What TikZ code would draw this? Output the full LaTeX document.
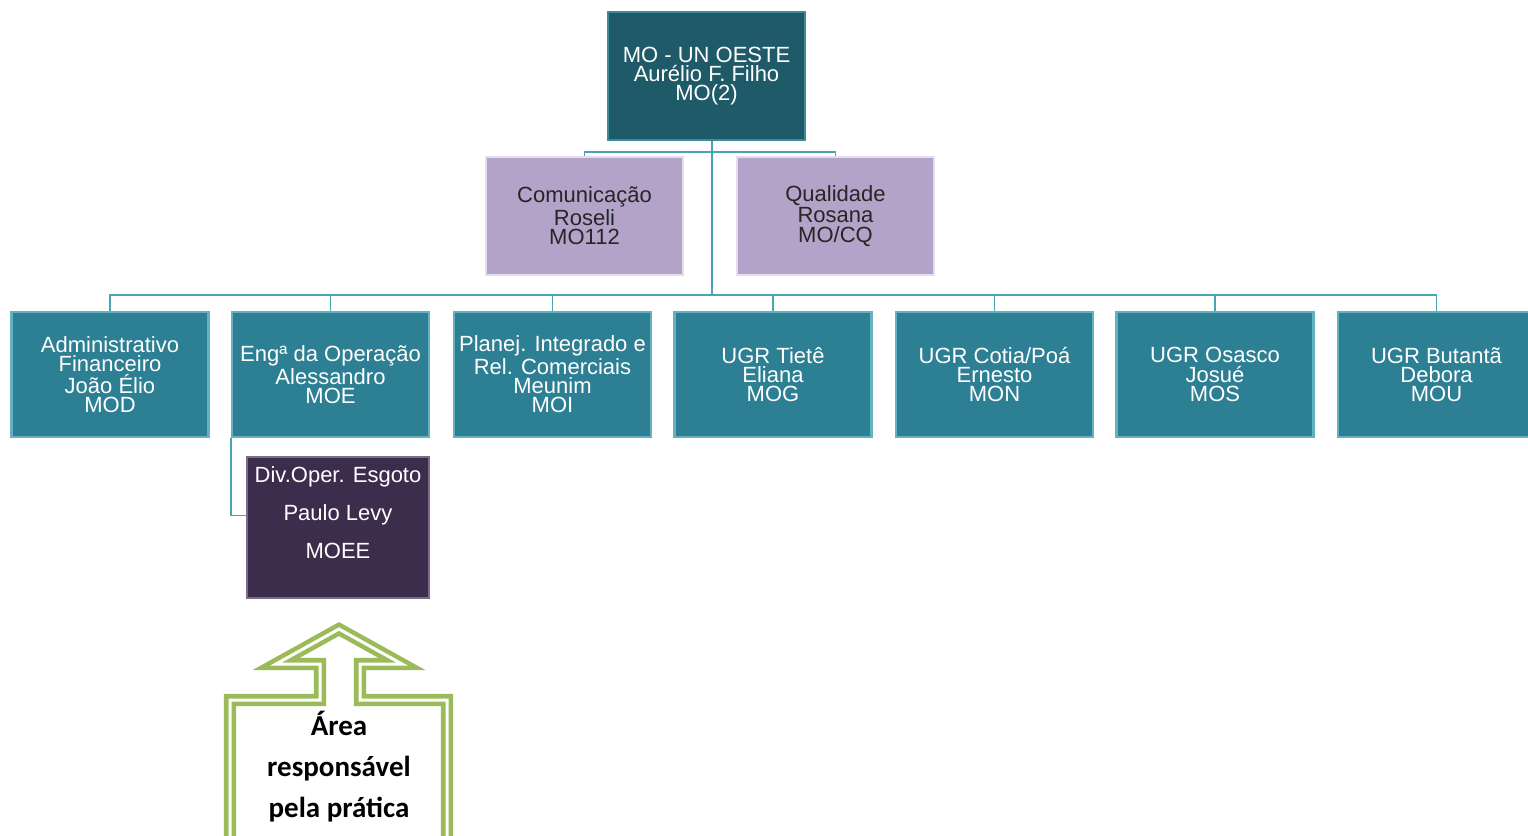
\documentclass[tikz,border=0pt]{standalone}
\usepackage{fontspec}
\setmainfont{Liberation Sans}
\newfontfamily\calib{Carlito}
\definecolor{topc}{HTML}{1F5A68}
\definecolor{topb}{HTML}{3F8A98}
\definecolor{rowc}{HTML}{2D7F93}
\definecolor{rowb}{HTML}{62B2C2}
\definecolor{lavc}{HTML}{B3A3C9}
\definecolor{lavb}{HTML}{E6DCF0}
\definecolor{purc}{HTML}{3C2D4D}
\definecolor{purb}{HTML}{7C6C8C}
\definecolor{linec}{HTML}{4BA4B4}
\definecolor{greenc}{HTML}{9BBB59}
\tikzset{
  orgbox/.style={rectangle, align=center, inner sep=0pt, line width=1.2pt,
    font=\fontsize{11}{9.6}\selectfont},
  topbox/.style={orgbox, fill=topc, draw=topb, text=white, minimum width=98.5pt, minimum height=64pt},
  lavbox/.style={orgbox, fill=lavc, draw=lavb, text=black!85, minimum width=98.5pt, minimum height=59pt},
  rowbox/.style={orgbox, fill=rowc, draw=rowb, text=white, minimum width=98.5pt, minimum height=62.5pt},
  purbox/.style={orgbox, fill=purc, draw=purb, text=white, minimum width=91pt, minimum height=70.5pt,
    font=\fontsize{11}{19}\selectfont},
  conn/.style={draw=linec, line width=0.9pt},
}
\begin{document}
\begin{tikzpicture}[x=0.5pt,y=-0.5pt]
\useasboundingbox (0,0) rectangle (1528,836);
\fill[white] (0,0) rectangle (1528,836);
\coordinate (hub1) at (712,152);
\coordinate (hub2) at (712,295);
\node[topbox] (top) at (706.5,76) {MO - UN OESTE\\Aurélio F. Filho\\MO(2)};
\node[lavbox] (com) at (584.5,216) {Comunicação\\Roseli\\MO112};
\node[lavbox] (qual) at (835.5,216) {Qualidade\\Rosana\\MO/CQ};
\node[rowbox] (a) at (110,374.5) {Administrativo\\Financeiro\\João Élio\\MOD};
\node[rowbox] (b) at (330.5,374.5) {Engª da Operação\\Alessandro\\MOE};
\node[rowbox] (c) at (552.5,374.5) {Planej. Integrado e\\Rel. Comerciais\\Meunim\\MOI};
\node[rowbox] (d) at (773,374.5) {UGR Tietê\\Eliana\\MOG};
\node[rowbox] (e) at (994.5,374.5) {UGR Cotia/Poá\\Ernesto\\MON};
\node[rowbox] (f) at (1215,374.5) {UGR Osasco\\Josué\\MOS};
\node[rowbox] (g) at (1436.5,374.5) {UGR Butantã\\Debora\\MOU};
\node[purbox] (div) at (338,527.5) {Div.Oper. Esgoto\\Paulo Levy\\MOEE\\[-4pt]~};
\draw[conn] (top.south -| hub2) -- (hub2);
\draw[conn] (hub1) -| (com.north);
\draw[conn] (hub1) -| (qual.north);
\foreach \n in {a,b,c,d,e,f,g} {\draw[conn] (hub2) -| (\n.north);}
\draw[conn] (b.south west) |- ([yshift=6pt]div.west);
\draw[greenc, line width=2.3pt, double=white, double distance=1.5pt, fill=white, line join=miter]
  (230,850) -- (230,700) -- (320,700) -- (320,664) -- (276,664) -- (339,629) -- (402,664)
  -- (360,664) -- (360,700) -- (447,700) -- (447,850) -- cycle;
\node[align=center, font=\calib\bfseries\fontsize{14.5}{20.5}\selectfont] (area) at (339,767)
  {Área\\responsável\\pela prática};
\end{tikzpicture}
\end{document}
